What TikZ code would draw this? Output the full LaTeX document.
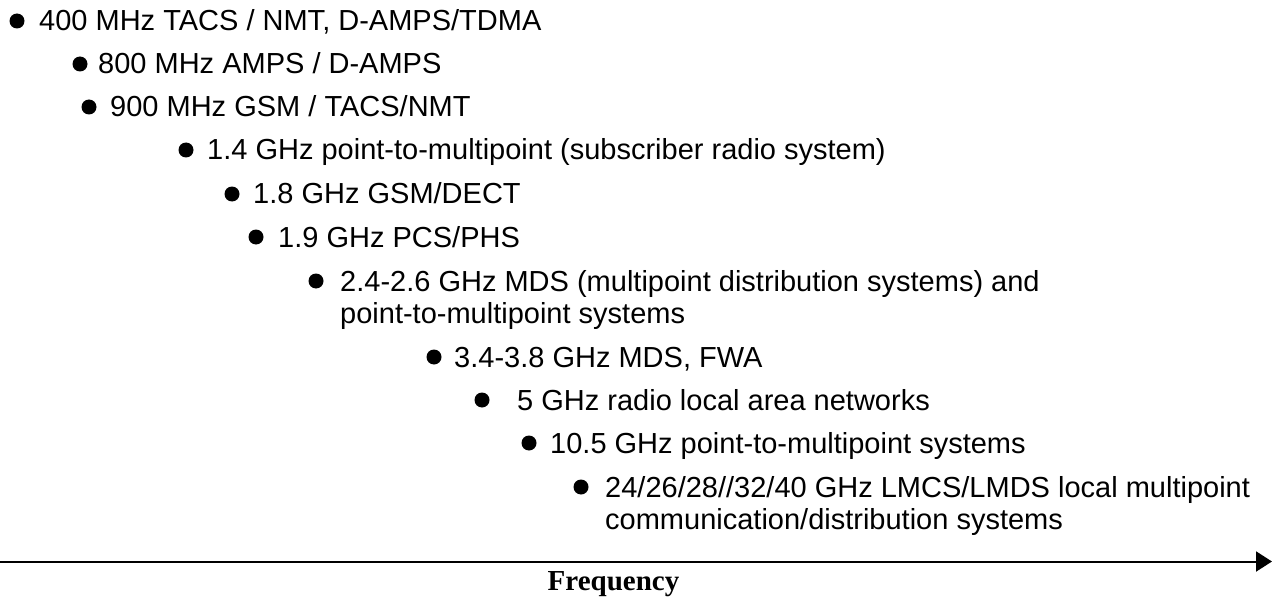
\documentclass[tikz,border=0pt]{standalone}
\usepackage{fontspec}
\setmainfont{Liberation Sans}
\newfontfamily\labelserif{Liberation Serif}
\usetikzlibrary{arrows.meta}
\begin{document}
\begin{tikzpicture}[x=1pt,y=1pt,
  entry/.style={anchor=base west, inner sep=0pt, font=\fontsize{29}{32}\selectfont},
  dot/.style={circle, fill=black, draw=none, inner sep=0pt, minimum size=15pt},
  axis/.style={line width=2pt, -{Triangle[length=16pt,width=20pt]}},
  axislabel/.style={anchor=base, inner sep=0pt, font=\labelserif\bfseries\fontsize{29}{32}\selectfont}]
\useasboundingbox (0,0) rectangle (1272,-599);

% bullets
\node[dot] (b1)  at (17,-21)  {};
\node[dot] (b2)  at (80,-64)  {};
\node[dot] (b3)  at (89,-107) {};
\node[dot] (b4)  at (186,-150) {};
\node[dot] (b5)  at (232,-194) {};
\node[dot] (b6)  at (256,-237) {};
\node[dot] (b7)  at (316,-281) {};
\node[dot] (b8)  at (434,-357) {};
\node[dot] (b9)  at (482,-400) {};
\node[dot] (b10) at (529,-443) {};
\node[dot] (b11) at (581,-487) {};

% band entries
\node[entry] (t1)  at (39,-31)   {400 MHz TACS / NMT, D-AMPS/TDMA};
\node[entry] (t2)  at (98,-74)   {800 MHz AMPS / D-AMPS};
\node[entry] (t3)  at (110,-117) {900 MHz GSM / TACS/NMT};
\node[entry] (t4)  at (207,-160) {1.4 GHz point-to-multipoint (subscriber radio system)};
\node[entry] (t5)  at (253,-204) {1.8 GHz GSM/DECT};
\node[entry] (t6)  at (278,-247) {1.9 GHz PCS/PHS};
\node[entry] (t7)  at (340,-291) {2.4-2.6 GHz MDS (multipoint distribution systems) and};
\node[entry] (t7b) at (340,-323) {point-to-multipoint systems};
\node[entry] (t8)  at (454,-367) {3.4-3.8 GHz MDS, FWA};
\node[entry] (t9)  at (517,-410) {5 GHz radio local area networks};
\node[entry] (t10) at (550,-453) {10.5 GHz point-to-multipoint systems};
\node[entry] (t11) at (605,-497) {24/26/28//32/40 GHz LMCS/LMDS local multipoint};
\node[entry] (t11b) at (605,-529) {communication/distribution systems};

% frequency axis
\coordinate (axisL) at (0,-561.5);
\coordinate (axisR) at (1272,-561.5);
\draw[axis] (axisL) -- (axisR);
\node[axislabel] (freq) at (613.5,-590) {Frequency};
\end{tikzpicture}
\end{document}
